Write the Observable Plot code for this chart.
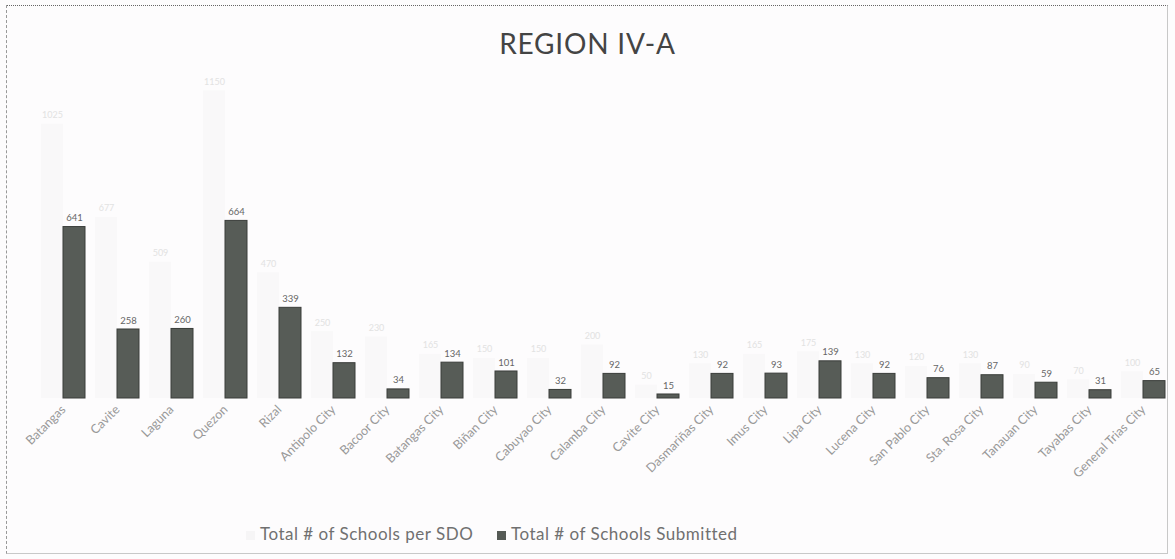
<!DOCTYPE html>
<html>
<head>
<meta charset="utf-8">
<script src="https://cdn.jsdelivr.net/npm/d3@7"></script>
<script src="https://cdn.jsdelivr.net/npm/@observablehq/plot@0.6"></script>
<style>
  html, body { margin: 0; padding: 0; background: #fdfcfd; }
  #wrap { position: relative; width: 1175px; height: 559px; overflow: hidden; font-family: Lato, "Open Sans", sans-serif; }
  #frame { position: absolute; left: 6px; top: 5px; width: 1162px; height: 549px; border: 1px solid #c8c8c8; border-top: 1px dotted #666; border-left: 1px dashed #999; box-sizing: border-box; pointer-events: none; }
  #title { height: 55px; text-align: center; font-size: 28px; color: #444; line-height: 86px; letter-spacing: 0.8px; }
  #chart svg { display: block; }
  #legend { position: absolute; top: 523px; left: 0; width: 1175px; height: 26px; font-size: 17px; color: #707070; letter-spacing: 0.5px; }
  .sw { position: absolute; top: 8px; width: 9px; height: 9px; }
  .lt { position: absolute; top: 0px; white-space: nowrap; }
</style>
</head>
<body>
<div id="wrap">
  <div id="title">REGION IV-A</div>
  <div id="chart"></div>
  <div id="legend">
    <div class="sw" style="left:246px;background:#f6f5f6;"></div>
    <div class="lt" style="left:260px;">Total # of Schools per SDO</div>
    <div class="sw" style="left:497px;background:#555a55;"></div>
    <div class="lt" style="left:511px;">Total # of Schools Submitted</div>
  </div>
  <div id="frame"></div>
</div>
<script>
const categories = ["Batangas", "Cavite", "Laguna", "Quezon", "Rizal", "Antipolo City", "Bacoor City", "Batangas City", "Biñan City", "Cabuyao City", "Calamba City", "Cavite City", "Dasmariñas City", "Imus City", "Lipa City", "Lucena City", "San Pablo City", "Sta. Rosa City", "Tanauan City", "Tayabas City", "General Trias City"];
const perSDO = [1025, 677, 509, 1150, 470, 250, 230, 165, 150, 150, 200, 50, 130, 165, 175, 130, 120, 130, 90, 70, 100];
const submitted = [641, 258, 260, 664, 339, 132, 34, 134, 101, 32, 92, 15, 92, 93, 139, 92, 76, 87, 59, 31, 65];
const seriesNames = ["Total # of Schools per SDO", "Total # of Schools Submitted"];

const data = [];
categories.forEach((c, i) => {
  data.push({cat: c, series: seriesNames[0], value: perSDO[i]});
  data.push({cat: c, series: seriesNames[1], value: submitted[i]});
});

const chart = Plot.plot({
  width: 1175,
  height: 450,
  marginLeft: 40,
  marginRight: 9,
  marginTop: 10,
  marginBottom: 107,
  style: {fontFamily: "Lato, 'Open Sans', sans-serif", background: "transparent"},
  fx: {domain: categories, padding: 0.18, label: null},
  x: {domain: seriesNames, padding: 0, axis: null},
  y: {domain: [0, 1245], axis: null},
  color: {domain: seriesNames, range: ["#f9f8f9", "#575c57"]},
  marks: [
    Plot.barY(data, {fx: "cat", x: "series", y: "value", fill: "series",
      stroke: d => d.series === seriesNames[1] ? "#3a3d3a" : "none", strokeWidth: 1}),
    Plot.text(data.filter(d => d.series === seriesNames[1]), {fx: "cat", x: "series", y: "value", text: d => String(d.value), dy: -9, fontSize: 9.5, fill: "#666"}),
    Plot.text(data.filter(d => d.series === seriesNames[0]), {fx: "cat", x: "series", y: "value", text: d => String(d.value), dy: -9, fontSize: 9, fill: "#e2e2e2"}),
    Plot.axisFx({anchor: "bottom", tickRotate: -45, tickSize: 0, tickPadding: 9, fontSize: 12.5, color: "#999", label: null})
  ]
});
document.getElementById("chart").appendChild(chart);
</script>
</body>
</html>
